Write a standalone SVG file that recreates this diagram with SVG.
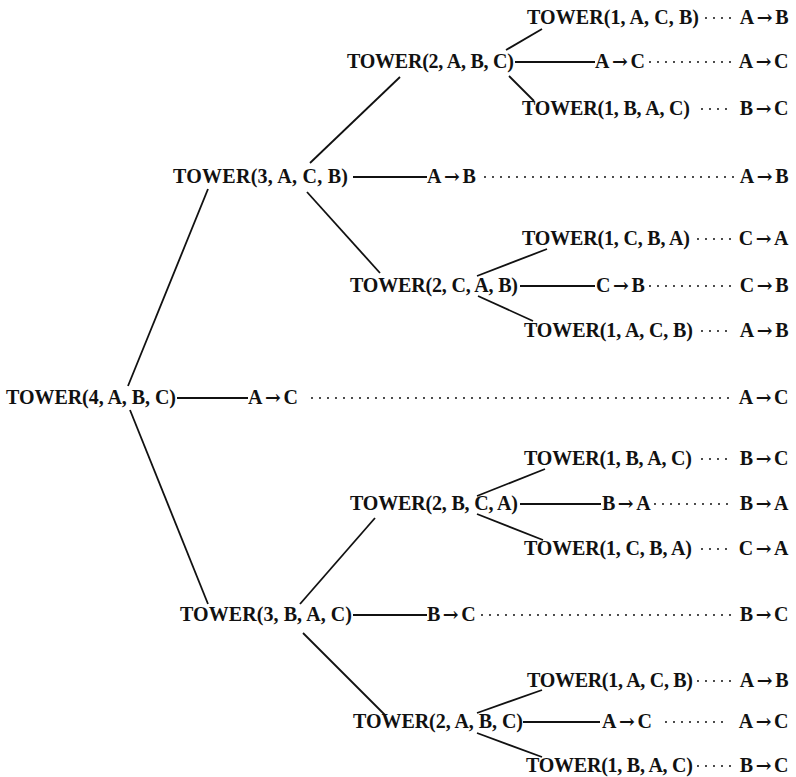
<svg xmlns="http://www.w3.org/2000/svg" width="796" height="777" viewBox="0 0 796 777">
<style>
text{font-family:"Liberation Serif","Times New Roman",serif;font-weight:bold;font-size:20px;fill:#111}
.m{letter-spacing:2.5px}
.r{text-anchor:end}
.a{font-family:"DejaVu Serif",serif;font-size:19px}
.ln{stroke:#111;stroke-width:1.8;fill:none}
.dt{stroke:#111;stroke-width:2;stroke-linecap:round;stroke-dasharray:0 8;fill:none}
</style>
<rect width="796" height="777" fill="#fff"/>
<g id="connectors">
<line class="ln" x1="128" y1="386" x2="208" y2="189"/>
<line class="ln" x1="130" y1="410" x2="208" y2="604"/>
<line class="ln" x1="310" y1="163" x2="400" y2="77"/>
<line class="ln" x1="307" y1="192" x2="380" y2="273"/>
<line class="ln" x1="300" y1="604" x2="375" y2="518"/>
<line class="ln" x1="303" y1="633" x2="385" y2="715"/>
<line class="ln" x1="506" y1="50" x2="542" y2="29"/>
<line class="ln" x1="509" y1="76" x2="534" y2="101"/>
<line class="ln" x1="477" y1="276" x2="547" y2="249"/>
<line class="ln" x1="478" y1="296" x2="533" y2="321"/>
<line class="ln" x1="477" y1="496" x2="545" y2="469"/>
<line class="ln" x1="477" y1="514" x2="543" y2="540"/>
<line class="ln" x1="477" y1="713" x2="542" y2="690"/>
<line class="ln" x1="477" y1="733" x2="542" y2="757"/>
<line class="ln" x1="177" y1="398" x2="248" y2="398"/>
<line class="ln" x1="353" y1="177" x2="427" y2="177"/>
<line class="ln" x1="353" y1="615" x2="427" y2="615"/>
<line class="ln" x1="515" y1="62" x2="595" y2="62"/>
<line class="ln" x1="520" y1="286" x2="595" y2="286"/>
<line class="ln" x1="520" y1="504" x2="601" y2="504"/>
<line class="ln" x1="523" y1="722" x2="600" y2="722"/>
<line class="dt" x1="312" y1="398" x2="734" y2="398"/>
<line class="dt" x1="485" y1="177" x2="734" y2="177"/>
<line class="dt" x1="482" y1="615" x2="734" y2="615"/>
<line class="dt" x1="650" y1="62" x2="734" y2="62"/>
<line class="dt" x1="650" y1="286" x2="734" y2="286"/>
<line class="dt" x1="655" y1="504" x2="734" y2="504"/>
<line class="dt" x1="666" y1="722" x2="730" y2="722"/>
<line class="dt" x1="706" y1="18" x2="734" y2="18"/>
<line class="dt" x1="702" y1="109" x2="734" y2="109"/>
<line class="dt" x1="698" y1="239" x2="734" y2="239"/>
<line class="dt" x1="702" y1="331" x2="734" y2="331"/>
<line class="dt" x1="702" y1="459" x2="734" y2="459"/>
<line class="dt" x1="702" y1="549" x2="734" y2="549"/>
<line class="dt" x1="698" y1="681" x2="734" y2="681"/>
<line class="dt" x1="698" y1="766" x2="734" y2="766"/>
</g>
<g id="n4"><text x="6" y="404" textLength="170">TOWER(4, A, B, C)</text><text class="m" x="248" y="404">A<tspan class="a">→</tspan>C</text><text class="m r" x="791" y="404">A<tspan class="a">→</tspan>C</text></g>
<g id="n3a"><text x="173" y="183" textLength="175">TOWER(3, A, C, B)</text><text class="m" x="427" y="183">A<tspan class="a">→</tspan>B</text><text class="m r" x="791" y="183">A<tspan class="a">→</tspan>B</text></g>
<g id="n3b"><text x="180" y="621" textLength="172">TOWER(3, B, A, C)</text><text class="m" x="427" y="621">B<tspan class="a">→</tspan>C</text><text class="m r" x="791" y="621">B<tspan class="a">→</tspan>C</text></g>
<g id="n2a"><text x="347" y="68" textLength="167">TOWER(2, A, B, C)</text><text class="m" x="595" y="68">A<tspan class="a">→</tspan>C</text><text class="m r" x="791" y="68">A<tspan class="a">→</tspan>C</text></g>
<g id="n2b"><text x="350" y="292" textLength="168">TOWER(2, C, A, B)</text><text class="m" x="596" y="292">C<tspan class="a">→</tspan>B</text><text class="m r" x="791" y="292">C<tspan class="a">→</tspan>B</text></g>
<g id="n2c"><text x="350" y="510" textLength="168">TOWER(2, B, C, A)</text><text class="m" x="602" y="510">B<tspan class="a">→</tspan>A</text><text class="m r" x="791" y="510">B<tspan class="a">→</tspan>A</text></g>
<g id="n2d"><text x="353" y="728" textLength="170">TOWER(2, A, B, C)</text><text class="m" x="602" y="728">A<tspan class="a">→</tspan>C</text><text class="m r" x="791" y="728">A<tspan class="a">→</tspan>C</text></g>
<g id="n1a"><text x="527" y="24" textLength="172">TOWER(1, A, C, B)</text><text class="m r" x="791" y="24">A<tspan class="a">→</tspan>B</text></g>
<g id="n1b"><text x="522" y="115" textLength="168">TOWER(1, B, A, C)</text><text class="m r" x="791" y="115">B<tspan class="a">→</tspan>C</text></g>
<g id="n1c"><text x="522" y="245" textLength="168">TOWER(1, C, B, A)</text><text class="m r" x="791" y="245">C<tspan class="a">→</tspan>A</text></g>
<g id="n1d"><text x="524" y="337" textLength="169">TOWER(1, A, C, B)</text><text class="m r" x="791" y="337">A<tspan class="a">→</tspan>B</text></g>
<g id="n1e"><text x="524" y="465" textLength="168">TOWER(1, B, A, C)</text><text class="m r" x="791" y="465">B<tspan class="a">→</tspan>C</text></g>
<g id="n1f"><text x="524" y="555" textLength="168">TOWER(1, C, B, A)</text><text class="m r" x="791" y="555">C<tspan class="a">→</tspan>A</text></g>
<g id="n1g"><text x="527" y="687" textLength="166">TOWER(1, A, C, B)</text><text class="m r" x="791" y="687">A<tspan class="a">→</tspan>B</text></g>
<g id="n1h"><text x="526" y="772" textLength="167">TOWER(1, B, A, C)</text><text class="m r" x="791" y="772">B<tspan class="a">→</tspan>C</text></g>
</svg>
